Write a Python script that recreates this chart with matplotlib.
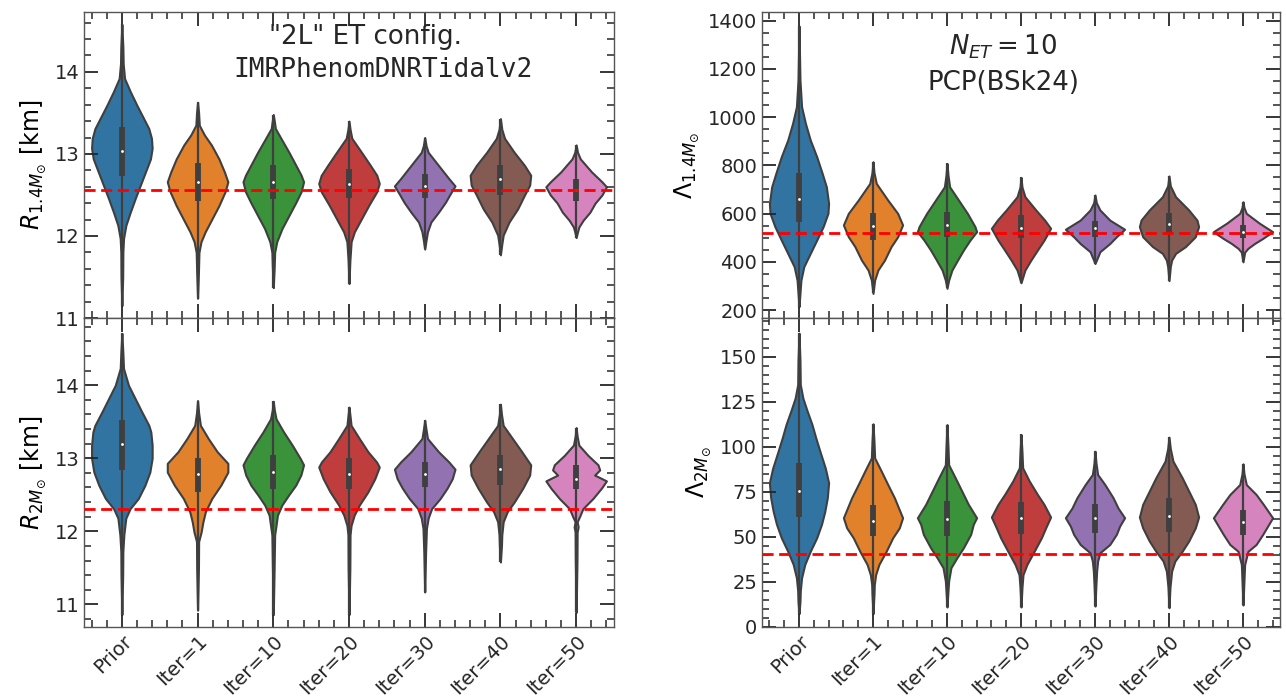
import matplotlib as mpl
mpl.use('Agg')
import matplotlib.pyplot as plt
from matplotlib.ticker import AutoMinorLocator, MultipleLocator

# categories
names = ['Prior', 'Iter=1', 'Iter=10', 'Iter=20', 'Iter=30', 'Iter=40', 'Iter=50']
colors = ['#3274a1', '#e1812c', '#3a923a', '#c03d3e', '#9372b2', '#845b53', '#d684bd']

# violin outlines: levels (y) and relative half widths
r14_levels = [
    [11.15, 11.5, 11.8, 11.97, 12.13, 12.29, 12.46, 12.62, 12.78, 12.94, 13.07, 13.19, 13.31, 13.43, 13.59, 13.76, 13.92, 14.1, 14.3, 14.58],
    [11.24, 11.55, 11.8, 11.93, 12.05, 12.21, 12.37, 12.54, 12.66, 12.78, 12.94, 13.11, 13.23, 13.35, 13.5, 13.63],
    [11.37, 11.6, 11.8, 11.93, 12.09, 12.25, 12.41, 12.54, 12.66, 12.74, 12.86, 13.02, 13.19, 13.31, 13.4, 13.48],
    [11.42, 11.7, 11.93, 12.05, 12.21, 12.37, 12.54, 12.64, 12.74, 12.86, 13.02, 13.19, 13.3, 13.4],
    [11.84, 11.95, 12.05, 12.17, 12.29, 12.41, 12.52, 12.61, 12.7, 12.86, 13.02, 13.1, 13.2],
    [11.77, 11.9, 12.01, 12.17, 12.33, 12.5, 12.62, 12.74, 12.86, 13.02, 13.19, 13.3, 13.43],
    [11.98, 12.05, 12.11, 12.19, 12.29, 12.4, 12.5, 12.6, 12.66, 12.78, 12.94, 13.02, 13.11],
]
r14_widths = [
    [0, 2.5, 3, 5, 12, 25, 40, 55, 70, 85, 90, 88, 80, 65, 45, 25, 8, 4, 3, 0],
    [0, 2.5, 4, 10, 22, 42, 62, 80, 88, 78, 62, 40, 20, 5, 3, 0],
    [0, 2.5, 4, 10, 25, 45, 65, 80, 87, 80, 65, 45, 22, 6, 3, 0],
    [0, 2.5, 6, 15, 35, 55, 78, 85, 78, 60, 35, 8, 3, 0],
    [0, 4, 8, 18, 40, 60, 75, 88, 70, 40, 10, 4, 0],
    [0, 4, 8, 25, 50, 70, 85, 88, 70, 40, 12, 4, 0],
    [0, 4, 8, 20, 40, 55, 75, 88, 75, 45, 12, 4, 0],
]
r14_q1 = [12.73, 12.43, 12.45, 12.46, 12.46, 12.50, 12.43]
r14_med = [13.04, 12.66, 12.66, 12.63, 12.61, 12.70, 12.56]
r14_q3 = [13.33, 12.89, 12.87, 12.82, 12.76, 12.87, 12.69]

r2_levels = [
    [10.86, 11.4, 11.72, 11.95, 12.18, 12.31, 12.45, 12.63, 12.81, 13.0, 13.18, 13.36, 13.45, 13.64, 13.82, 14.0, 14.23, 14.45, 14.71],
    [10.92, 11.5, 11.86, 11.99, 12.13, 12.27, 12.45, 12.63, 12.81, 12.93, 13.09, 13.27, 13.45, 13.62, 13.79],
    [10.86, 11.5, 11.95, 12.08, 12.22, 12.36, 12.5, 12.63, 12.77, 12.91, 13.0, 13.18, 13.36, 13.54, 13.66, 13.78],
    [10.86, 11.5, 11.95, 12.08, 12.22, 12.36, 12.54, 12.72, 12.88, 12.95, 13.09, 13.27, 13.45, 13.58, 13.7],
    [11.17, 11.7, 12.04, 12.18, 12.31, 12.45, 12.59, 12.72, 12.85, 12.95, 13.09, 13.27, 13.42, 13.52],
    [11.58, 11.8, 11.95, 12.13, 12.27, 12.4, 12.59, 12.77, 12.91, 13.09, 13.27, 13.45, 13.6, 13.74],
    [10.89, 11.6, 11.99, 12.06, 12.13, 12.2, 12.31, 12.45, 12.59, 12.69, 12.77, 12.84, 12.91, 13.04, 13.18, 13.3, 13.42],
]
r2_widths = [
    [0, 2.5, 3, 6, 12, 25, 50, 70, 85, 92, 92, 88, 82, 60, 40, 20, 5, 3, 0],
    [0, 2.5, 3, 10, 15, 22, 40, 65, 85, 85, 55, 30, 8, 3, 0],
    [0, 2.5, 4, 8, 12, 25, 45, 65, 80, 88, 78, 55, 30, 8, 3, 0],
    [0, 2.5, 3, 6, 15, 30, 55, 75, 88, 80, 55, 30, 6, 3, 0],
    [0, 2.5, 5, 10, 20, 45, 65, 80, 88, 70, 40, 8, 3, 0],
    [0, 3, 4, 8, 20, 40, 65, 85, 88, 62, 35, 8, 3, 0],
    [0, 2.5, 3, 6, 3, 10, 20, 50, 75, 90, 55, 70, 65, 35, 8, 3, 0],
]
r2_q1 = [12.84, 12.54, 12.58, 12.58, 12.60, 12.63, 12.58]
r2_med = [13.19, 12.78, 12.81, 12.79, 12.78, 12.85, 12.71]
r2_q3 = [13.52, 13.00, 13.04, 13.00, 12.95, 13.05, 12.91]

l14_levels = [
    [214, 269, 324, 380, 435, 490, 546, 601, 642, 711, 767, 836, 905, 974, 1043, 1154, 1378],
    [269, 324, 366, 407, 463, 504, 553, 601, 656, 725, 770, 815],
    [290, 324, 366, 407, 449, 490, 525, 546, 601, 656, 711, 760, 808],
    [313, 366, 407, 449, 490, 539, 573, 615, 670, 710, 750],
    [393, 442, 476, 504, 535, 573, 615, 645, 677],
    [322, 380, 407, 435, 463, 504, 546, 573, 615, 670, 715, 756],
    [400, 440, 456, 476, 497, 525, 560, 601, 625, 649],
]
l14_widths = [
    [0, 3, 6, 15, 35, 55, 75, 90, 92, 85, 72, 55, 35, 20, 8, 3, 0],
    [0, 5, 15, 35, 55, 75, 90, 75, 45, 10, 3, 0],
    [0, 5, 15, 32, 50, 70, 90, 85, 62, 35, 8, 3, 0],
    [0, 12, 30, 50, 70, 90, 72, 45, 12, 3, 0],
    [0, 15, 45, 65, 90, 45, 15, 4, 0],
    [0, 4, 8, 20, 50, 80, 90, 85, 60, 20, 4, 0],
    [0, 5, 15, 35, 60, 90, 50, 10, 3, 0],
]
l14_q1 = [566, 490, 501, 497, 501, 515, 497]
l14_med = [659, 550, 553, 541, 539, 557, 525]
l14_q3 = [767, 604, 608, 594, 570, 604, 553]

l2_levels = [
    [7.4, 14, 20, 27.3, 34.7, 42, 49.5, 57, 64, 71.7, 80, 88, 97.5, 105, 112.5, 120, 127, 134.5, 148, 163],
    [7.4, 18, 23.6, 29, 34.7, 42, 49.5, 55, 60.6, 71.7, 79, 86.5, 93.8, 103, 112.7],
    [11.1, 20, 25.5, 32.9, 38.4, 44, 51.4, 57, 60.6, 68, 75.4, 82.8, 90, 100, 112.3],
    [11.1, 22, 29, 34.7, 42, 49.5, 55, 61, 68, 73.5, 81, 88.3, 97, 106.8],
    [11.6, 24, 31, 36.6, 41.2, 45.8, 51.4, 56, 60.6, 66, 71.7, 79, 84.6, 91, 97.5],
    [10.7, 22, 31, 36.6, 42, 47.7, 55, 61, 68, 75.4, 82.8, 92, 99, 105.3],
    [12.2, 26, 34.7, 38.4, 42, 45.8, 51.4, 56, 60.6, 68, 73.5, 79, 85, 90.5],
]
l2_widths = [
    [0, 3, 4, 8, 18, 35, 55, 70, 80, 88, 92, 82, 65, 52, 40, 25, 12, 4, 3, 0],
    [0, 3, 4, 8, 18, 40, 60, 80, 90, 65, 45, 25, 5, 3, 0],
    [0, 3, 5, 12, 30, 50, 72, 80, 90, 65, 45, 25, 5, 3, 0],
    [0, 3, 6, 18, 40, 62, 75, 90, 70, 50, 25, 5, 3, 0],
    [0, 3, 5, 8, 15, 45, 65, 75, 90, 70, 55, 30, 8, 3, 0],
    [0, 3, 8, 18, 40, 60, 80, 90, 80, 60, 40, 12, 4, 0],
    [0, 3, 5, 10, 15, 40, 60, 75, 90, 62, 40, 10, 3, 0],
]
l2_q1 = [61, 50.4, 50.4, 51.4, 52.3, 52.8, 51]
l2_med = [75.4, 58.7, 59.7, 60.2, 60.2, 61.5, 58.2]
l2_q3 = [90.7, 67.4, 69.8, 69.3, 68.4, 71.7, 64.7]

# injected (true) values
r14_true = 12.565
r2_true = 12.307
l14_true = 520
l2_true = 40.5

plt.rcParams['font.family'] = 'DejaVu Sans'
edge = '#3f3f3f'

fig = plt.figure(figsize=(12.86, 6.96), dpi=100)
W, H = 1286, 696


def make_ax(x0, x1, y0, y1):
    return fig.add_axes([x0 / W, 1 - y1 / H, (x1 - x0) / W, (y1 - y0) / H])


def draw(ax, levels, widths, q1, med, q3, true_val, ylim, major):
    pos = list(range(len(names)))
    stats = []
    for i in pos:
        stats.append(dict(coords=levels[i], vals=widths[i], mean=med[i], median=med[i],
                          min=levels[i][0], max=levels[i][-1], quantiles=[]))
    parts = ax.violin(stats, positions=pos, widths=0.8, showmeans=False,
                      showextrema=False, showmedians=False)
    for body, c in zip(parts['bodies'], colors):
        body.set_facecolor(c)
        body.set_edgecolor(edge)
        body.set_linewidth(1.5)
        body.set_alpha(1)
        body.set_joinstyle('round')
    for i in pos:
        ax.vlines(i, levels[i][0], levels[i][-1], color=edge, lw=1.6, zorder=3)
        ax.vlines(i, q1[i], q3[i], color=edge, lw=4.2, zorder=3)
        ax.scatter(i, med[i], s=4, color='white', zorder=4, linewidths=0)
    ax.axhline(true_val, color='red', ls='--', lw=2, dashes=(4, 2), zorder=5)
    ax.set_xlim(-0.5, len(names) - 0.5)
    ax.set_ylim(*ylim)
    ax.yaxis.set_major_locator(MultipleLocator(major))
    ax.yaxis.set_minor_locator(AutoMinorLocator())
    ax.xaxis.set_minor_locator(MultipleLocator(0.2))
    ax.set_xticks(pos)
    ax.tick_params(which='both', direction='in', top=True, right=True, colors='#262626')
    ax.tick_params(which='major', length=10, width=1.3, labelsize=14)
    ax.tick_params(which='minor', length=5, width=1.1)
    for s in ax.spines.values():
        s.set_color('#555555')
        s.set_linewidth(1.0)


ax1 = make_ax(84, 614, 12, 318)
ax2 = make_ax(84, 614, 318, 627)
ax3 = make_ax(762, 1280, 12, 318)
ax4 = make_ax(762, 1280, 318, 627)

draw(ax1, r14_levels, r14_widths, r14_q1, r14_med, r14_q3, r14_true, (11.0, 14.73), 1)
draw(ax2, r2_levels, r2_widths, r2_q1, r2_med, r2_q3, r2_true, (10.69, 14.92), 1)
draw(ax3, l14_levels, l14_widths, l14_q1, l14_med, l14_q3, l14_true, (167, 1436), 200)
draw(ax4, l2_levels, l2_widths, l2_q1, l2_med, l2_q3, l2_true, (0, 171.4), 25)

for ax in (ax1, ax3):
    ax.set_xticklabels([])
for ax in (ax2, ax4):
    ax.set_xticklabels(names, rotation=45, ha='right', rotation_mode='anchor', fontsize=14)

ax1.set_ylabel(r'$R_{1.4M_{\odot}}$ [km]', fontsize=17)
ax2.set_ylabel(r'$R_{2M_{\odot}}$ [km]', fontsize=17)
ax3.set_ylabel(r'$\Lambda_{1.4M_{\odot}}$', fontsize=17)
ax4.set_ylabel(r'$\Lambda_{2M_{\odot}}$', fontsize=17)

ax1.text(0.531, 0.918, '"2L" ET config.', transform=ax1.transAxes, ha='center', va='center',
         fontsize=18.8, color='#262626')
ax1.text(0.564, 0.81, 'IMRPhenomDNRTidalv2', transform=ax1.transAxes, ha='center', va='center',
         fontsize=18.8, family='DejaVu Sans Mono', color='#262626')
ax3.text(0.466, 0.886, r'$N_{ET}=10$', transform=ax3.transAxes, ha='center', va='center',
         fontsize=18.7, color='#262626')
ax3.text(0.466, 0.769, 'PCP(BSk24)', transform=ax3.transAxes, ha='center', va='center',
         fontsize=18.7, color='#262626')

fig.savefig('out.png', dpi=100)
plt.close()
